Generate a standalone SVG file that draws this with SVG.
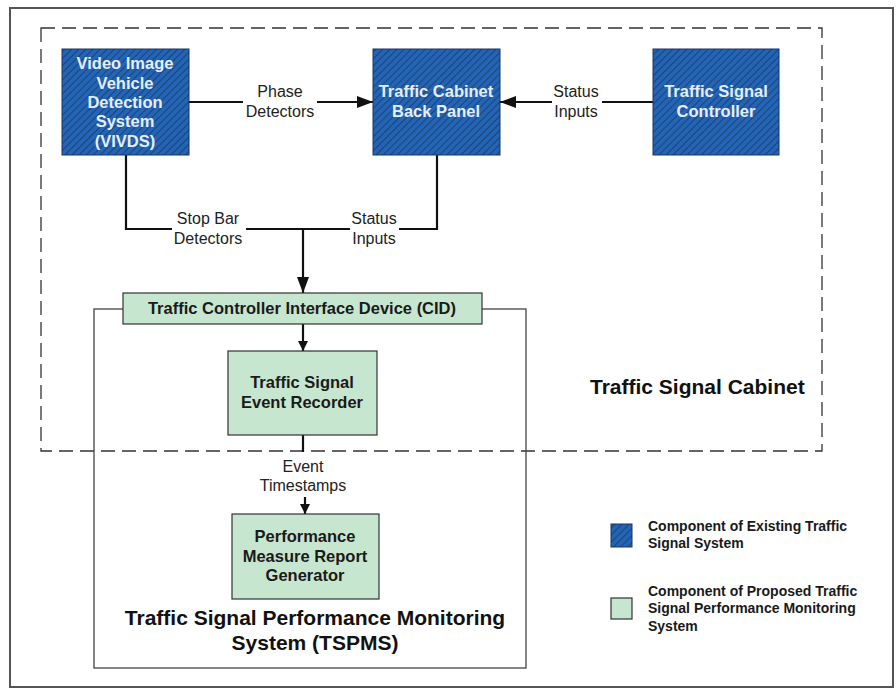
<svg xmlns="http://www.w3.org/2000/svg" width="896" height="688" viewBox="0 0 896 688">
<defs>
<pattern id="hatch" patternUnits="userSpaceOnUse" width="5" height="5" patternTransform="rotate(45)">
<rect width="5" height="5" fill="#2464B4"/>
<line x1="0" y1="0" x2="0" y2="5" stroke="#163866" stroke-width="1.5"/>
</pattern>
<marker id="arr" viewBox="0 0 10 10" refX="10" refY="5" markerWidth="10" markerHeight="10" markerUnits="userSpaceOnUse" orient="auto">
<path d="M0,0 L10,5 L0,10 z" fill="#111"/>
</marker>
<marker id="arrL" viewBox="0 0 16 12" refX="16" refY="6" markerWidth="16" markerHeight="12" markerUnits="userSpaceOnUse" orient="auto">
<path d="M0,0 L16,6 L0,12 z" fill="#111"/>
</marker>
</defs>
<style>
.blue{fill:url(#hatch);stroke:#1a3560;stroke-width:1}
.green{fill:#C6E6D0;stroke:#333;stroke-width:1.2}
.bt{font-family:"Liberation Sans",Arial,sans-serif;font-weight:bold;font-size:16.5px;fill:#E4EEF8;text-anchor:middle}
.gt{font-family:"Liberation Sans",Arial,sans-serif;font-weight:bold;font-size:16.5px;fill:#1a1a1a;text-anchor:middle}
.lbl{font-family:"Liberation Sans",Arial,sans-serif;font-size:16px;fill:#222;text-anchor:middle}
.big{font-family:"Liberation Sans",Arial,sans-serif;font-weight:bold;font-size:21px;fill:#111}
.leg{font-family:"Liberation Sans",Arial,sans-serif;font-weight:bold;font-size:14px;fill:#1a1a1a}
.wire{fill:none;stroke:#111;stroke-width:2.2}
</style>
<rect width="896" height="688" fill="#fff"/>
<rect x="10" y="8" width="883" height="679" fill="none" stroke="#555" stroke-width="2"/>
<g id="cabinet">
<rect x="41" y="28" width="781" height="423" fill="none" stroke="#333" stroke-width="1.3" stroke-dasharray="14,7"/>
<text class="big" x="590" y="394">Traffic Signal Cabinet</text>
</g>
<g id="tspms">
<rect x="94" y="309" width="432" height="359" fill="none" stroke="#444" stroke-width="1.3"/>
<text class="big" x="315" y="625" text-anchor="middle">Traffic Signal Performance Monitoring</text>
<text class="big" x="315" y="650" text-anchor="middle">System (TSPMS)</text>
</g>
<g id="connectors">
<line class="wire" x1="189" y1="102" x2="243" y2="102"/>
<line class="wire" x1="317" y1="102" x2="373" y2="102" marker-end="url(#arrL)"/>
<line class="wire" x1="653" y1="102" x2="602" y2="102"/>
<line class="wire" x1="552" y1="102" x2="500" y2="102" marker-end="url(#arrL)"/>
<polyline class="wire" points="126,155 126,229 172,229"/>
<polyline class="wire" points="246,229 350,229"/>
<polyline class="wire" points="437,155 437,229 399,229"/>
<line class="wire" x1="303" y1="229" x2="303" y2="293" marker-end="url(#arrL)"/>
<line class="wire" x1="303" y1="324" x2="303" y2="351" marker-end="url(#arr)"/>
<line class="wire" x1="303" y1="435" x2="303" y2="452"/>
<line class="wire" x1="305" y1="497" x2="305" y2="514" marker-end="url(#arr)"/>
<text class="lbl" x="280" y="97">Phase</text>
<text class="lbl" x="280" y="117">Detectors</text>
<text class="lbl" x="576" y="97">Status</text>
<text class="lbl" x="576" y="117">Inputs</text>
<text class="lbl" x="208" y="224">Stop Bar</text>
<text class="lbl" x="208" y="244">Detectors</text>
<text class="lbl" x="374" y="224">Status</text>
<text class="lbl" x="374" y="244">Inputs</text>
<text class="lbl" x="303" y="472">Event</text>
<text class="lbl" x="303" y="491">Timestamps</text>
</g>
<g id="vivds">
<rect class="blue" x="62" y="49" width="127" height="106"/>
<text class="bt" x="125" y="69">Video Image</text>
<text class="bt" x="125" y="89">Vehicle</text>
<text class="bt" x="125" y="108">Detection</text>
<text class="bt" x="125" y="127">System</text>
<text class="bt" x="125" y="147">(VIVDS)</text>
</g>
<g id="backpanel">
<rect class="blue" x="373" y="49" width="127" height="106"/>
<text class="bt" x="436" y="97">Traffic Cabinet</text>
<text class="bt" x="436" y="117">Back Panel</text>
</g>
<g id="controller">
<rect class="blue" x="653" y="49" width="126" height="106"/>
<text class="bt" x="716" y="97">Traffic Signal</text>
<text class="bt" x="716" y="117">Controller</text>
</g>
<g id="cid">
<rect class="green" x="123" y="293" width="359" height="31"/>
<text class="gt" x="302" y="314" font-size="15.8">Traffic Controller Interface Device (CID)</text>
</g>
<g id="recorder">
<rect class="green" x="228" y="351" width="149" height="84"/>
<text class="gt" x="302" y="388">Traffic Signal</text>
<text class="gt" x="302" y="408">Event Recorder</text>
</g>
<g id="generator">
<rect class="green" x="232" y="514" width="147" height="85"/>
<text class="gt" x="305" y="542">Performance</text>
<text class="gt" x="305" y="562">Measure Report</text>
<text class="gt" x="305" y="581">Generator</text>
</g>
<g id="legend">
<rect class="blue" x="611" y="524" width="21" height="23"/>
<text class="leg" x="648" y="531">Component of Existing Traffic</text>
<text class="leg" x="648" y="548">Signal System</text>
<rect class="green" x="611" y="598" width="21" height="21"/>
<text class="leg" x="648" y="596">Component of Proposed Traffic</text>
<text class="leg" x="648" y="613">Signal Performance Monitoring</text>
<text class="leg" x="648" y="631">System</text>
</g>
</svg>
